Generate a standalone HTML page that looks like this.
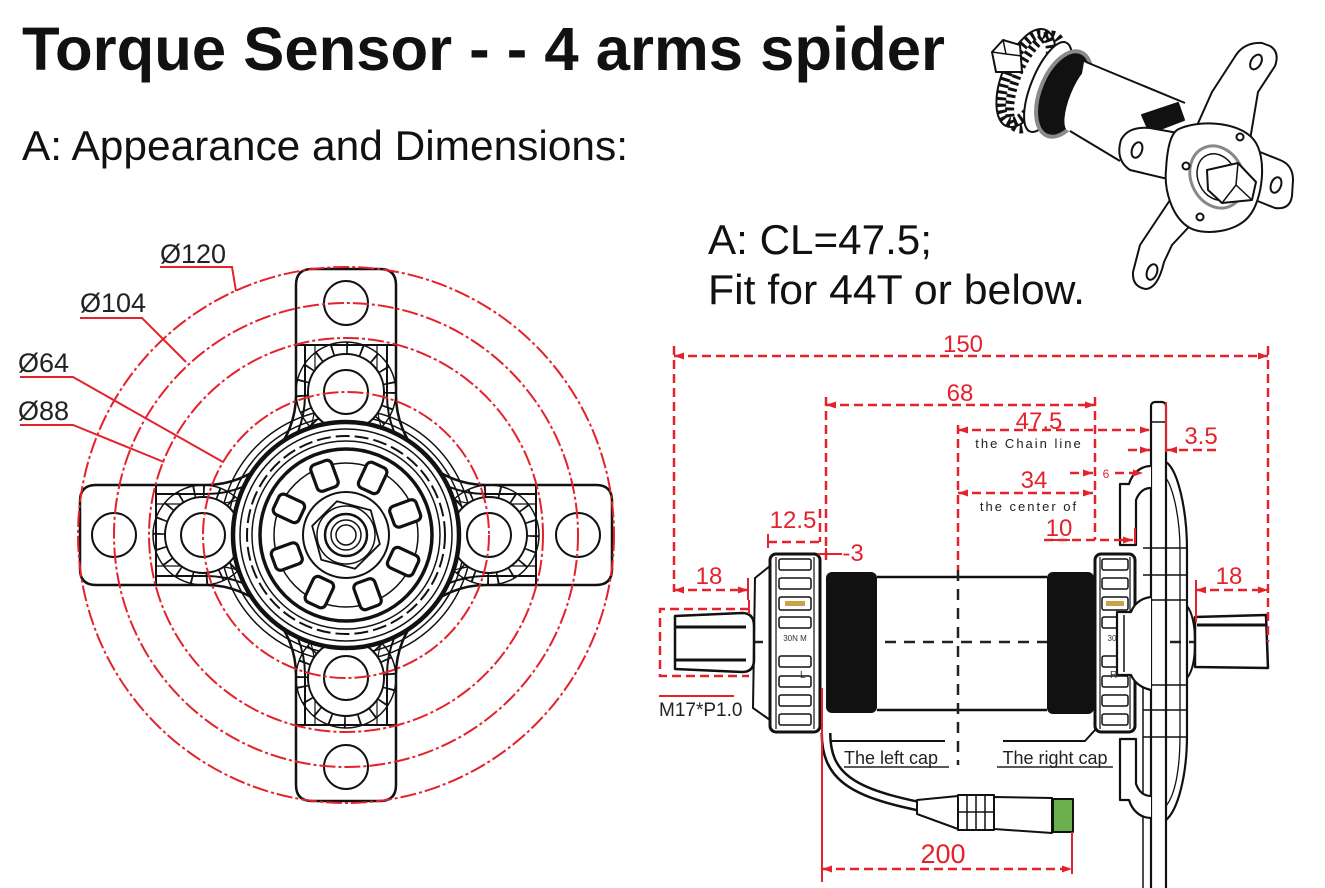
<!DOCTYPE html>
<html><head><meta charset="utf-8">
<style>html,body{margin:0;padding:0;background:#fff;}svg{display:block}</style>
</head>
<body>
<svg width="1325" height="888" viewBox="0 0 1325 888" xmlns="http://www.w3.org/2000/svg" font-family="'Liberation Sans', Arial, sans-serif">
<defs>
<marker id="a" viewBox="0 0 10 8" refX="10" refY="4" markerWidth="11" markerHeight="8" markerUnits="userSpaceOnUse" orient="auto-start-reverse"><path d="M0,0.5 L10,4 L0,7.5 Z" fill="#e4222c"/></marker>
</defs>
<rect width="1325" height="888" fill="#fff"/>

<!-- Titles -->
<text x="22" y="70" font-size="61" font-weight="bold" fill="#111" textLength="923" lengthAdjust="spacingAndGlyphs">Torque Sensor - - 4 arms spider</text>
<text x="22" y="160" font-size="42" fill="#111" textLength="606" lengthAdjust="spacingAndGlyphs">A: Appearance and Dimensions:</text>
<text x="708" y="254" font-size="42" fill="#111" textLength="224" lengthAdjust="spacingAndGlyphs">A: CL=47.5;</text>
<text x="708" y="304" font-size="42" fill="#111" textLength="377" lengthAdjust="spacingAndGlyphs">Fit for 44T or below.</text>

<!-- ============ FRONT VIEW ============ -->
<g transform="translate(346,535)" fill="none" stroke="#111" stroke-width="2" stroke-linejoin="round">
  <path fill="#fff" stroke-width="2.5" d="M-50,-250 Q-50,-266 -34,-266 L34,-266 Q50,-266 50,-250 L50,-140 A90 90 0 0 0 140,-50 L250,-50 Q266,-50 266,-34 L266,34 Q266,50 250,50 L140,50 A90 90 0 0 0 50,140 L50,250 Q50,266 34,266 L-34,266 Q-50,266 -50,250 L-50,140 A90 90 0 0 0 -140,50 L-250,50 Q-266,50 -266,34 L-266,-34 Q-266,-50 -250,-50 L-140,-50 A90 90 0 0 0 -50,-140 Z"/>
  <g id="q">
    <path d="M41,-190 L41,-140 A99 99 0 0 0 140,-41 L190,-41"/>
    <path d="M31,-190 L31,-150 A109 109 0 0 0 150,-31 L190,-31" stroke-width="1.2"/>
    <path d="M-50,-190 H50"/>
  </g>
  <use href="#q" transform="rotate(90)"/>
  <use href="#q" transform="rotate(180)"/>
  <use href="#q" transform="rotate(270)"/>
  <circle r="126" stroke-width="1.5"/>
  <circle r="119" stroke-width="1.5"/>
  <g id="b">
    <circle cx="0" cy="-143" r="50" stroke-width="1.5"/>
    <circle cx="0" cy="-143" r="44" stroke-width="12" stroke-dasharray="1.8 13"/>
    <circle cx="0" cy="-143" r="38" fill="#fff" stroke-width="2"/>
    <circle cx="0" cy="-143" r="22" stroke-width="2"/>
    <circle cx="0" cy="-232" r="22" stroke-width="2"/>
  </g>
  <use href="#b" transform="rotate(90)"/>
  <use href="#b" transform="rotate(180)"/>
  <use href="#b" transform="rotate(270)"/>
  <circle r="113" fill="#fff" stroke-width="4.5"/>
  <circle r="106" stroke-width="1.5"/>
  <circle r="99" stroke-width="2" stroke-dasharray="14 5"/>
  <circle r="94" stroke-width="1.5"/>
  <circle r="86" stroke-width="3.5"/>
  <circle r="72" stroke-width="1.5"/>
  <g stroke-width="3.2" fill="#fff">
    <rect x="-11" y="-77" width="22" height="28" rx="5" transform="rotate(-20)"/>
    <rect x="-11" y="-77" width="22" height="28" rx="5" transform="rotate(25)"/>
    <rect x="-11" y="-77" width="22" height="28" rx="5" transform="rotate(70)"/>
    <rect x="-11" y="-77" width="22" height="28" rx="5" transform="rotate(115)"/>
    <rect x="-11" y="-77" width="22" height="28" rx="5" transform="rotate(160)"/>
    <rect x="-11" y="-77" width="22" height="28" rx="5" transform="rotate(205)"/>
    <rect x="-11" y="-77" width="22" height="28" rx="5" transform="rotate(250)"/>
    <rect x="-11" y="-77" width="22" height="28" rx="5" transform="rotate(295)"/>
  </g>
  <circle r="43" stroke-width="2"/>
  <polygon points="35,0 17.5,30.3 -17.5,30.3 -35,0 -17.5,-30.3 17.5,-30.3" stroke-width="1.8" transform="rotate(15)"/>
  <circle r="29" stroke-width="1.5"/>
  <circle r="21" stroke-width="2.5"/>
  <circle r="15" stroke-width="1.5"/>
  <circle r="10" stroke-width="1.5"/>
  <!-- red dash-dot circles -->
  <g stroke="#e4222c" stroke-width="2" stroke-dasharray="16 3 3 3">
    <circle r="268"/>
    <circle r="232"/>
    <circle r="197"/>
    <circle r="143"/>
  </g>
</g>

<!-- Front view labels -->
<g fill="#222" font-size="27">
  <text x="160" y="263">Ø120</text>
  <text x="80" y="312">Ø104</text>
  <text x="18" y="372">Ø64</text>
  <text x="18" y="420">Ø88</text>
</g>
<g stroke="#e4222c" stroke-width="2" fill="none">
  <path d="M160,267 H232 L236,291"/>
  <path d="M80,318 H142 L186,362"/>
  <path d="M20,377 H73 L223,462"/>
  <path d="M20,425 H73 L164,462"/>
</g>

<!-- ============ 3D VIEW ============ -->
<g fill="#fff" stroke="#111" stroke-width="2" stroke-linejoin="round">
  <!-- gear (toothed cylinder) -->
  <ellipse cx="1026" cy="78" rx="24" ry="52" transform="rotate(22 1026 78)"/>
  <ellipse cx="1026" cy="78" rx="19" ry="47" transform="rotate(22 1026 78)" fill="none" stroke-width="10" stroke-dasharray="3 3.5"/>
  <ellipse cx="1036" cy="82" rx="20" ry="50" transform="rotate(22 1036 82)" fill="none" stroke-width="9" stroke-dasharray="3 3.5"/>
  <ellipse cx="1048" cy="87" rx="17" ry="48" transform="rotate(22 1048 87)"/>
  <!-- seal ring + black crescent -->
  <ellipse cx="1064" cy="94" rx="24" ry="45" transform="rotate(22 1064 94)" fill="#111" stroke="#8a8a8a" stroke-width="4"/>
  <!-- cylinder -->
  <path d="M1084,62 L1185,103 L1178,140 L1120,162 L1072,131 Z" stroke="none"/>
  <ellipse cx="1081" cy="98" rx="11" ry="35" transform="rotate(22 1081 98)" stroke="none"/>
  <path d="M1086,62 L1185,103 M1070,131 L1120,161" fill="none"/>
  <!-- spindle end -->
  <path d="M992,52 L1003,40 L1020,45 L1022,72 L996,72 Z"/>
  <path d="M1003,40 L1006,54 L992,52 M1006,54 L1022,56" fill="none" stroke-width="1.5"/>
  <path d="M1142,115 L1178,103 L1184,120 L1150,133 Z" fill="#111"/>
  <!-- arms -->
  <path d="M1195,130 L1212,92 L1236,55 Q1245,42 1262,43 L1270,46 Q1280,52 1275,66 L1258,92 L1250,140 Z"/>
  <ellipse cx="1256" cy="62" rx="5" ry="8" transform="rotate(30 1256 62)"/>
  <path d="M1255,150 L1280,160 Q1293,165 1293,180 L1292,196 Q1290,210 1275,208 L1255,200 Z"/>
  <ellipse cx="1276" cy="185" rx="5" ry="8" transform="rotate(20 1276 185)"/>
  <path d="M1200,215 L1172,245 L1164,262 Q1158,288 1146,289 Q1132,287 1133,272 L1140,245 L1170,200 Z"/>
  <ellipse cx="1152" cy="272" rx="5" ry="8" transform="rotate(20 1152 272)"/>
  <path d="M1178,133 L1150,128 Q1128,126 1121,140 Q1115,160 1130,170 L1172,180 Z"/>
  <ellipse cx="1137" cy="150" rx="5" ry="8" transform="rotate(20 1137 150)"/>
  <path d="M1177,130 C1195,120 1238,120 1254,140 C1268,158 1262,200 1250,215 C1238,232 1205,236 1190,228 C1172,218 1164,190 1166,170 C1167,150 1170,135 1177,130 Z"/>
  <ellipse cx="1217" cy="177" rx="26" ry="32" transform="rotate(-25 1217 177)" fill="none" stroke="#888" stroke-width="3"/>
  <ellipse cx="1217" cy="177" rx="19" ry="24" transform="rotate(-25 1217 177)" fill="none" stroke-width="1.5"/>
  <path d="M1207,170 L1238,163 L1256,182 L1252,200 L1222,203 L1208,190 Z"/>
  <path d="M1238,163 L1236,185 L1252,200 M1236,185 L1222,203" fill="none" stroke-width="1.5"/>
  <circle cx="1240" cy="137" r="3.5"/>
  <circle cx="1186" cy="166" r="3.5"/>
  <circle cx="1200" cy="217" r="3.5"/>
</g>

<!-- ============ SIDE VIEW ============ -->
<path d="M676,642 H1268" stroke="#222" stroke-width="2.5" stroke-dasharray="11 8" fill="none"/>

<g stroke="#111" fill="#fff" stroke-linejoin="round">
  <!-- left shaft -->
  <path d="M675,616 L742,613 Q754,613 754,626 L754,660 Q754,672 742,672 L675,669 Z" stroke-width="2.5"/>
  <path d="M676,627 H746 M676,660 H746" stroke-width="3" fill="none"/>
  <path d="M770,566 L755,578 L753,708 L770,720" stroke-width="2" fill="none"/>
  <!-- left cap -->
  <rect x="770" y="554" width="50" height="178" rx="6" stroke-width="3"/>
  <path d="M776,557 V729 M814,557 V729" stroke-width="1.2" fill="none"/>
  <g stroke-width="1.5">
    <rect x="779" y="559" width="32" height="11" rx="2"/>
    <rect x="779" y="578" width="32" height="11" rx="2"/>
    <rect x="779" y="597" width="32" height="13" rx="2"/>
    <rect x="779" y="617" width="32" height="11" rx="2"/>
    <rect x="779" y="656" width="32" height="11" rx="2"/>
    <rect x="779" y="676" width="32" height="11" rx="2"/>
    <rect x="779" y="695" width="32" height="11" rx="2"/>
    <rect x="779" y="714" width="32" height="11" rx="2"/>
  </g>
  <rect x="785" y="601" width="20" height="5" fill="#c9a24a" stroke="none"/>
  <!-- threads & body -->
  <rect x="826" y="572" width="51" height="141" rx="6" fill="#111" stroke="none"/>
  <rect x="1047" y="572" width="47" height="142" rx="6" fill="#111" stroke="none"/>
  <path d="M877,577 H1047 M877,710 H1047" stroke-width="2.5" fill="none"/>
  <!-- right cap -->
  <rect x="1095" y="554" width="40" height="178" rx="6" stroke-width="3"/>
  <path d="M1100,557 V729 M1130,557 V729" stroke-width="1.2" fill="none"/>
  <g stroke-width="1.5">
    <rect x="1102" y="559" width="26" height="11" rx="2"/>
    <rect x="1102" y="578" width="26" height="11" rx="2"/>
    <rect x="1102" y="597" width="26" height="13" rx="2"/>
    <rect x="1102" y="617" width="26" height="11" rx="2"/>
    <rect x="1102" y="656" width="26" height="11" rx="2"/>
    <rect x="1102" y="676" width="26" height="11" rx="2"/>
    <rect x="1102" y="695" width="26" height="11" rx="2"/>
    <rect x="1102" y="714" width="26" height="11" rx="2"/>
  </g>
  <rect x="1106" y="601" width="18" height="5" fill="#c9a24a" stroke="none"/>
  <!-- spider side -->
  <rect x="1151" y="402" width="15" height="492" rx="4" stroke-width="2.2"/>
  <path d="M1151,422 H1166" stroke-width="1.5" fill="none"/>
  <path d="M1166,462 C1178,470 1187,510 1187,550 L1187,735 C1187,775 1178,810 1166,820" stroke-width="2.2" fill="none"/>
  <path d="M1166,478 C1174,490 1180,520 1180,550 L1180,735 C1180,770 1175,795 1166,806" stroke-width="1.3" fill="none"/>
  <path d="M1143,548 H1187 M1143,575 H1187 M1143,600 H1187 M1143,685 H1187 M1143,710 H1187 M1143,737 H1187" stroke-width="1.5" fill="none"/>
  <path d="M1143,600 V888" stroke-width="1.5" fill="none"/>
  <path d="M1151,466 C1140,466 1132,474 1129,484 L1120,484 L1120,545 L1136,545 L1136,500 C1139,492 1144,488 1151,488" stroke-width="2.2"/>
  <path d="M1151,818 C1140,818 1132,810 1129,800 L1120,800 L1120,739 L1136,739 L1136,784 C1139,792 1144,796 1151,796" stroke-width="2.2"/>
  <path d="M1151,597 C1141,598 1134,604 1131,612 L1117,612 L1117,675 L1131,675 C1134,682 1141,688 1151,690" stroke-width="2.2"/>
  <path d="M1124,615 V672" stroke-width="1.5" fill="none"/>
  <!-- right boss & shaft -->
  <path d="M1187,606 C1192,612 1195,625 1195,642 C1195,660 1192,672 1187,678" stroke-width="2" fill="none"/>
  <path d="M1195,617 L1266,615 L1268,668 L1195,667 Z" stroke-width="2.5"/>
  <path d="M1197,625 H1266" stroke-width="3" fill="none"/>
  <!-- cap lines -->
  <path d="M831,741 H945 M1003,741 H1085 L1095,730" stroke-width="2" fill="none"/>
  <!-- cable -->
  <path d="M826,733 C826,775 850,792 918,806" stroke="#111" stroke-width="11" fill="none"/>
  <path d="M826,733 C826,775 850,792 918,806" stroke="#fff" stroke-width="6" fill="none"/>
  <!-- connector -->
  <path d="M917,800 L958,796 L958,829 L917,814 Z" stroke-width="2"/>
  <rect x="958" y="795" width="36" height="35" stroke-width="2"/>
  <path d="M967,795 V830 M976,795 V830 M985,795 V830 M958,812 H994" stroke-width="1.5" fill="none"/>
  <path d="M994,797 L1052,798 L1052,833 L994,829 Z" stroke-width="2"/>
  <rect x="1053" y="799" width="20" height="33" fill="#6ab04c" stroke-width="2"/>
</g>

<!-- small cap labels -->
<g fill="#333" font-size="8">
  <text x="795" y="641" text-anchor="middle">30N M</text>
  <text x="800" y="678" font-size="10">L</text>
  <text x="1112" y="641" text-anchor="middle">30</text>
  <text x="1110" y="678" font-size="10">R</text>
</g>

<!-- red dimension lines -->
<g stroke="#e4222c" stroke-width="2.5" fill="none" stroke-dasharray="9 5">
  <path d="M674,356 H1268" marker-start="url(#a)" marker-end="url(#a)"/>
  <path d="M674,346 V592"/>
  <path d="M1268,346 V642"/>
  <path d="M826,405 H1095" marker-start="url(#a)" marker-end="url(#a)"/>
  <path d="M826,397 V560"/>
  <path d="M1095,397 V540"/>
  <path d="M958,430 H1150" marker-start="url(#a)" marker-end="url(#a)"/>
  <path d="M1128,450 H1150" marker-end="url(#a)"/>
  <path d="M1216,450 H1167" marker-end="url(#a)"/>
  <path d="M1070,473 H1093" marker-end="url(#a)"/>
  <path d="M1115,473 H1143" marker-end="url(#a)"/>
  <path d="M958,493 H1093" marker-start="url(#a)" marker-end="url(#a)"/>
  <path d="M1044,540 H1133" marker-end="url(#a)"/>
  <path d="M958,425 V570"/>
  <path d="M768,542 H820"/>
  <path d="M820,509 V542"/>
  <path d="M674,590 H748" marker-start="url(#a)" marker-end="url(#a)"/>
  <path d="M1196,590 H1268" marker-start="url(#a)" marker-end="url(#a)"/>
  <path d="M749,609 H660 V676 H749"/>
  <path d="M822,869 H1072" marker-start="url(#a)" marker-end="url(#a)"/>
</g>
<g stroke="#e4222c" stroke-width="2" fill="none">
  <path d="M768,534 V548"/>
  <path d="M818,554 H842 M826,548 V560"/>
  <path d="M748,578 V600 M749,600 V614"/>
  <path d="M1196,580 V622"/>
  <path d="M1135,528 V544"/>
  <path d="M659,696 H734"/>
  <path d="M822,688 V882"/>
  <path d="M1072,832 V874"/>
  <path d="M1166,402 V452"/>
</g>
<path d="M958,570 V765" stroke="#222" stroke-width="2.5" stroke-dasharray="11 8" fill="none"/>

<!-- red dimension texts -->
<g fill="#e4222c" font-size="24" text-anchor="middle">
  <text x="963" y="352">150</text>
  <text x="960" y="401">68</text>
  <text x="1039" y="429">47.5</text>
  <text x="1201" y="444">3.5</text>
  <text x="1034" y="488">34</text>
  <text x="1059" y="536">10</text>
  <text x="793" y="528">12.5</text>
  <text x="853" y="561">-3</text>
  <text x="709" y="584">18</text>
  <text x="1229" y="584">18</text>
  <text x="943" y="863" font-size="27">200</text>
  <text x="1106" y="478" font-size="12">6</text>
</g>
<path d="M1044,540 H1070" stroke="#e4222c" stroke-width="2"/>

<!-- black small texts -->
<g fill="#222">
  <text x="1029" y="448" font-size="13" text-anchor="middle" letter-spacing="2">the Chain line</text>
  <text x="1029" y="511" font-size="13" text-anchor="middle" letter-spacing="2">the center of</text>
  <text x="891" y="764" font-size="18" text-anchor="middle">The left cap</text>
  <text x="1055" y="764" font-size="18" text-anchor="middle">The right cap</text>
  <text x="659" y="716" font-size="19">M17*P1.0</text>
</g>
<path d="M844,767 H949 M997,767 H1113" stroke="#222" stroke-width="1.5"/>
</svg>
</body></html>
